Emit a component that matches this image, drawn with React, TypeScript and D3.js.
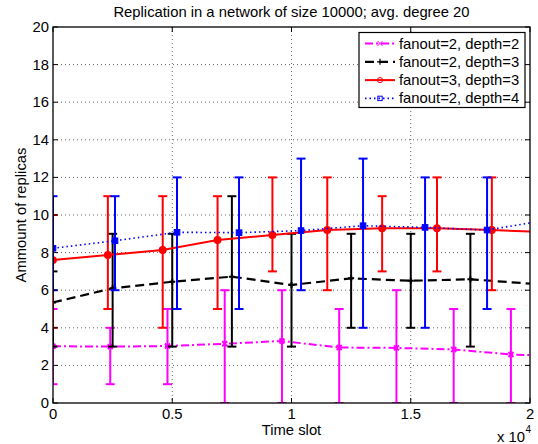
import React from "react";
import * as d3 from "d3";

// ---- data ----
const xTicks = [0, 5000, 10000, 15000, 20000];
const xTickLabels = ["0", "0.5", "1", "1.5", "2"];
const yTicks = [0, 2, 4, 6, 8, 10, 12, 14, 16, 18, 20];

// fanout=2, depth=2
const d22X = [0, 2400, 4800, 7200, 9600, 12000, 14400, 16800, 19200];
const d22Mean = [3.02, 3.0, 3.03, 3.15, 3.3, 2.95, 2.93, 2.85, 2.58];
const d22Min = [1, 1, 1, 0, 0, 0, 0, 0, 0];
const d22Max = [5, 4, 5, 6, 6, 5, 6, 5, 5];
const d22End = 2.55;

// fanout=2, depth=3
const d23X = [0, 2500, 5000, 7500, 10000, 12500, 15000, 17500];
const d23Mean = [5.35, 6.1, 6.45, 6.72, 6.28, 6.63, 6.5, 6.58];
const d23Min = [3, 3, 3, 3, 3, 4, 4, 3];
const d23Max = [7, 9, 9, 11, 9, 9, 9, 9];
const d23End = 6.35;

// fanout=3, depth=3
const d33X = [0, 2300, 4600, 6900, 9200, 11500, 13800, 16100, 18400];
const d33Mean = [7.6, 7.87, 8.14, 8.67, 8.94, 9.2, 9.29, 9.3, 9.2];
const d33Min = [4, 5, 4, 5, 7, 6, 7, 7, 6];
const d33Max = [10, 11, 11, 11, 12, 12, 11, 12, 12];
const d33End = 9.12;

// fanout=2, depth=4
const d24X = [0, 2600, 5200, 7800, 10400, 13000, 15600, 18200];
const d24Mean = [8.23, 8.63, 9.08, 9.06, 9.17, 9.43, 9.34, 9.2];
const d24Min = [6, 6, 5, 5, 6, 4, 4, 5];
const d24Max = [11, 11, 12, 12, 13, 13, 12, 12];
const d24End = 9.58;

const xEnd = 20000;

type Series = {
  name: string;
  color: string;
  dash: string;
  width: number;
  marker: "x" | "+" | "o" | "s";
  xs: number[];
  mean: number[];
  lo: number[];
  hi: number[];
  end: number;
};

const series: Series[] = [
  { name: "fanout=2, depth=2", color: "#ff00ff", dash: "8,3,2,3", width: 2, marker: "x", xs: d22X, mean: d22Mean, lo: d22Min, hi: d22Max, end: d22End },
  { name: "fanout=2, depth=3", color: "#000000", dash: "9,5", width: 2.2, marker: "+", xs: d23X, mean: d23Mean, lo: d23Min, hi: d23Max, end: d23End },
  { name: "fanout=3, depth=3", color: "#ff0000", dash: "", width: 2, marker: "o", xs: d33X, mean: d33Mean, lo: d33Min, hi: d33Max, end: d33End },
  { name: "fanout=2, depth=4", color: "#0000ff", dash: "1.5,3", width: 1.6, marker: "s", xs: d24X, mean: d24Mean, lo: d24Min, hi: d24Max, end: d24End },
];

const W = 538;
const H = 444;
const L = 53, R = 530, T = 27, B = 403;
const FONT = "'Liberation Sans', Arial, Helvetica, sans-serif";
const FS = 14.8;

function Marker({ type, x, y, color, legend }: { type: string; x: number; y: number; color: string; legend?: boolean }) {
  if (type === "x") {
    const a = 2.5;
    return (
      <path d={`M${x - a},${y - a}L${x + a},${y + a}M${x - a},${y + a}L${x + a},${y - a}`} stroke={color} strokeWidth={legend ? 1 : 2} fill="none" />
    );
  }
  if (type === "+") {
    const a = 3;
    return <path d={`M${x - a},${y}L${x + a},${y}M${x},${y - a}L${x},${y + a}`} stroke={color} strokeWidth={legend ? 1.2 : 2} fill="none" />;
  }
  if (type === "o") {
    return legend ? (
      <circle cx={x} cy={y} r={2.6} stroke={color} strokeWidth={1} fill="none" />
    ) : (
      <circle cx={x} cy={y} r={3.2} stroke={color} strokeWidth={1.5} fill={color} />
    );
  }
  const s = legend ? 2.2 : 2.8;
  return legend ? (
    <rect x={x - s} y={y - s} width={2 * s} height={2 * s} stroke={color} strokeWidth={1} fill="none" />
  ) : (
    <rect x={x - s} y={y - s} width={2 * s} height={2 * s} stroke={color} strokeWidth={1} fill={color} />
  );
}

export default function App() {
  const x = d3.scaleLinear().domain([0, 20000]).range([L, R]);
  const y = d3.scaleLinear().domain([0, 20]).range([B, T]);
  const line = d3
    .line<[number, number]>()
    .x((d) => x(d[0]))
    .y((d) => y(d[1]));
  const cap = 4.5;

  return (
    <svg width={W} height={H} style={{ position: "absolute", left: 0, top: 0, background: "#fff" }} fontFamily={FONT}>
      <defs>
        <clipPath id="ax">
          <rect x={L} y={T} width={R - L} height={B - T} />
        </clipPath>
      </defs>
      <rect x={0} y={0} width={W} height={H} fill="#fff" />
      {/* grid */}
      <g stroke="#666" strokeWidth={1} strokeDasharray="1,3">
        {xTicks.slice(1, -1).map((t) => (
          <line key={"gx" + t} x1={x(t)} x2={x(t)} y1={T} y2={B} />
        ))}
        {yTicks.slice(1, -1).map((t) => (
          <line key={"gy" + t} x1={L} x2={R} y1={y(t)} y2={y(t)} />
        ))}
      </g>
      {/* data */}
      <g clipPath="url(#ax)">
        {series.map((s) => {
          const pts: [number, number][] = s.xs.map((xv, i) => [xv, s.mean[i]] as [number, number]);
          pts.push([xEnd, s.end]);
          return (
            <g key={s.name}>
              <g stroke={s.color} strokeWidth={2} fill="none">
                {s.xs.map((xv, i) => (
                  <g key={i}>
                    <line x1={x(xv)} x2={x(xv)} y1={y(s.lo[i])} y2={y(s.hi[i])} />
                    <line x1={x(xv) - cap} x2={x(xv) + cap} y1={y(s.lo[i])} y2={y(s.lo[i])} />
                    <line x1={x(xv) - cap} x2={x(xv) + cap} y1={y(s.hi[i])} y2={y(s.hi[i])} />
                  </g>
                ))}
              </g>
              <path d={line(pts) || ""} stroke={s.color} strokeWidth={s.width} strokeDasharray={s.dash || undefined} fill="none" />
              {s.xs.map((xv, i) => (
                <Marker key={"m" + i} type={s.marker} x={x(xv)} y={y(s.mean[i])} color={s.color} />
              ))}
            </g>
          );
        })}
      </g>
      {/* axes box and ticks */}
      <g stroke="#000" strokeWidth={1}>
        {xTicks.map((t) => (
          <g key={"tx" + t}>
            <line x1={x(t)} x2={x(t)} y1={B} y2={B - 5} />
            <line x1={x(t)} x2={x(t)} y1={T} y2={T + 5} />
          </g>
        ))}
        {yTicks.map((t) => (
          <g key={"ty" + t}>
            <line x1={L} x2={L + 5} y1={y(t)} y2={y(t)} />
            <line x1={R} x2={R - 5} y1={y(t)} y2={y(t)} />
          </g>
        ))}
        <rect x={L} y={T} width={R - L} height={B - T} fill="none" strokeWidth={1.3} />
      </g>
      {/* tick labels */}
      <g fontSize={FS} fill="#000">
        {xTicks.map((t, i) => (
          <text key={"lx" + t} x={x(t)} y={419} textAnchor="middle">
            {xTickLabels[i]}
          </text>
        ))}
        {yTicks.map((t) => (
          <text key={"ly" + t} x={49} y={y(t) + 5} textAnchor="end">
            {t}
          </text>
        ))}
        <text x={525} y={441.5} textAnchor="end">x 10</text>
        <text x={525.5} y={433} fontSize={10}>4</text>
        <text x={(L + R) / 2} y={435} textAnchor="middle">Time slot</text>
        <text transform={`translate(26,${(T + B) / 2}) rotate(-90)`} textAnchor="middle">Ammount of replicas</text>
        <text x={(L + R) / 2} y={17} textAnchor="middle">Replication in a network of size 10000; avg. degree 20</text>
      </g>
      {/* legend */}
      <g>
        <rect x={359} y={32.5} width={166} height={75} fill="#fff" stroke="#000" strokeWidth={1.2} />
        {series.map((s, i) => {
          const cy = 43.5 + i * 18.3;
          return (
            <g key={"lg" + i}>
              <line x1={365} x2={395} y1={cy} y2={cy} stroke={s.color} strokeWidth={s.width} strokeDasharray={s.dash || undefined} />
              <Marker type={s.marker} x={380} y={cy} color={s.color} legend />
              <text x={399} y={cy + 5} fontSize={FS} fill="#000">
                {s.name}
              </text>
            </g>
          );
        })}
      </g>
    </svg>
  );
}
